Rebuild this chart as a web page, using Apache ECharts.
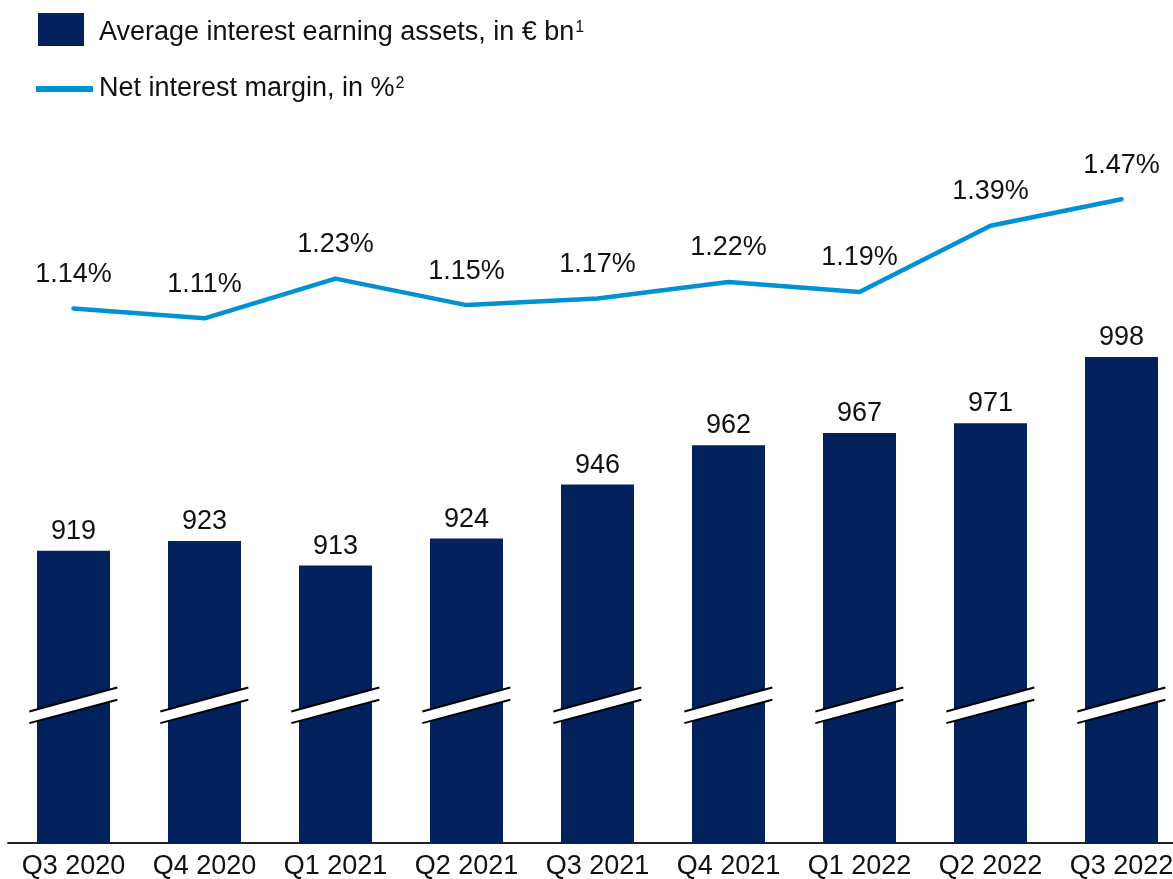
<!DOCTYPE html>
<html>
<head>
<meta charset="utf-8">
<title>Average interest earning assets and net interest margin</title>
<script src="https://cdn.jsdelivr.net/npm/echarts@6/dist/echarts.min.js"></script>
<style>
  html, body { margin: 0; padding: 0; background: #ffffff; }
  #chart { width: 1173px; height: 879px; }
</style>
</head>
<body>
<div id="chart"></div>
<script>
// Quarters on the category axis
const quarters = ['Q3 2020', 'Q4 2020', 'Q1 2021', 'Q2 2021', 'Q3 2021', 'Q4 2021', 'Q1 2022', 'Q2 2022', 'Q3 2022'];
// Average interest earning assets, in € bn
const assets = [919, 923, 913, 924, 946, 962, 967, 971, 998];
// Net interest margin, in %
const margin = [1.14, 1.11, 1.23, 1.15, 1.17, 1.22, 1.19, 1.39, 1.47];
// Series names and footnote markers used in the legend
const assetsName = 'Average interest earning assets, in € bn';
const marginName = 'Net interest margin, in %';
const assetsNote = '1';
const marginNote = '2';

const NAVY = '#02215d';
const BLUE = '#0091d3';
const INK = '#111111';
const FONT = '"Liberation Sans", Arial, Helvetica, sans-serif';

// Bar axis is truncated: the break symbol sits at this value level
const BREAK_AT = 856;

const chart = echarts.init(document.getElementById('chart'), null, { renderer: 'canvas' });

const legendRich = {
  t: { fontSize: 27, color: INK, fontFamily: FONT, lineHeight: 30 },
  s: { fontSize: 16, color: INK, fontFamily: FONT, lineHeight: 16, verticalAlign: 'top', padding: [2, 0, 0, 1] }
};

const option = {
  animation: false,
  backgroundColor: '#ffffff',
  textStyle: { fontFamily: FONT },
  legend: [
    {
      data: [{ name: assetsName, icon: 'rect' }],
      left: 33, top: 8,
      itemWidth: 46, itemHeight: 33,
      selectedMode: false,
      formatter: (n) => '{t|' + n + '}{s|' + assetsNote + '}',
      textStyle: { padding: [6, 0, 0, 10], rich: legendRich }
    },
    {
      data: [{ name: marginName, icon: 'rect' }],
      left: 31, top: 69,
      itemWidth: 57, itemHeight: 6,
      selectedMode: false,
      formatter: (n) => '{t|' + n + '}{s|' + marginNote + '}',
      textStyle: { padding: [0, 0, 0, 1], rich: legendRich }
    }
  ],
  grid: [
    { left: 8, width: 1179, top: 352, height: 491, containLabel: false, outerBoundsMode: 'none' },
    { left: 8, width: 1179, top: 189.4, height: 165.3, containLabel: false, outerBoundsMode: 'none' }
  ],
  xAxis: [
    {
      type: 'category', gridIndex: 0, data: quarters,
      axisLine: { show: true, lineStyle: { color: '#222222', width: 2 } },
      axisTick: { show: false },
      axisLabel: { color: INK, fontSize: 27, fontFamily: FONT, margin: 10, interval: 0 }
    },
    {
      type: 'category', gridIndex: 1, data: quarters, show: false
    }
  ],
  yAxis: [
    { type: 'value', gridIndex: 0, min: 800, max: 1000, show: false, splitLine: { show: false } },
    { type: 'value', gridIndex: 1, min: 1.0, max: 1.5, show: false, splitLine: { show: false } }
  ],
  series: [
    {
      name: assetsName,
      type: 'bar',
      xAxisIndex: 0, yAxisIndex: 0,
      data: assets,
      barWidth: 73,
      itemStyle: { color: NAVY },
      label: {
        show: true, position: 'top', distance: 6,
        color: INK, fontSize: 27, fontFamily: FONT
      },
      z: 2
    },
    {
      // axis-break marks drawn across every bar
      type: 'custom',
      xAxisIndex: 0, yAxisIndex: 0,
      data: assets.map((v, i) => [i, v]),
      silent: true,
      clip: false,
      z: 5,
      renderItem: function (params, api) {
        const p = api.coord([api.value(0), BREAK_AT]);
        const cx = p[0], cy = p[1];
        const hl = 44.2, hr = 43.8;
        const upL = [cx - hl, cy + 6], upR = [cx + hr, cy - 18];
        const loL = [cx - hl, cy + 17.6], loR = [cx + hr, cy - 5.7];
        return {
          type: 'group',
          children: [
            { type: 'polygon', shape: { points: [upL, upR, loR, loL] }, style: { fill: '#ffffff' } },
            { type: 'line', shape: { x1: upL[0], y1: upL[1], x2: upR[0], y2: upR[1] }, style: { stroke: '#000000', lineWidth: 2 } },
            { type: 'line', shape: { x1: loL[0], y1: loL[1], x2: loR[0], y2: loR[1] }, style: { stroke: '#000000', lineWidth: 2 } }
          ]
        };
      }
    },
    {
      name: marginName,
      type: 'line',
      xAxisIndex: 1, yAxisIndex: 1,
      data: margin,
      clip: false,
      symbol: 'circle', symbolSize: 1,
      itemStyle: { color: BLUE },
      lineStyle: { color: BLUE, width: 4.5, cap: 'round', join: 'round' },
      label: {
        show: true, position: 'top', distance: 20,
        color: INK, fontSize: 27, fontFamily: FONT,
        formatter: (p) => p.value.toFixed(2) + '%'
      },
      z: 3
    }
  ]
};

chart.setOption(option);
</script>
</body>
</html>
